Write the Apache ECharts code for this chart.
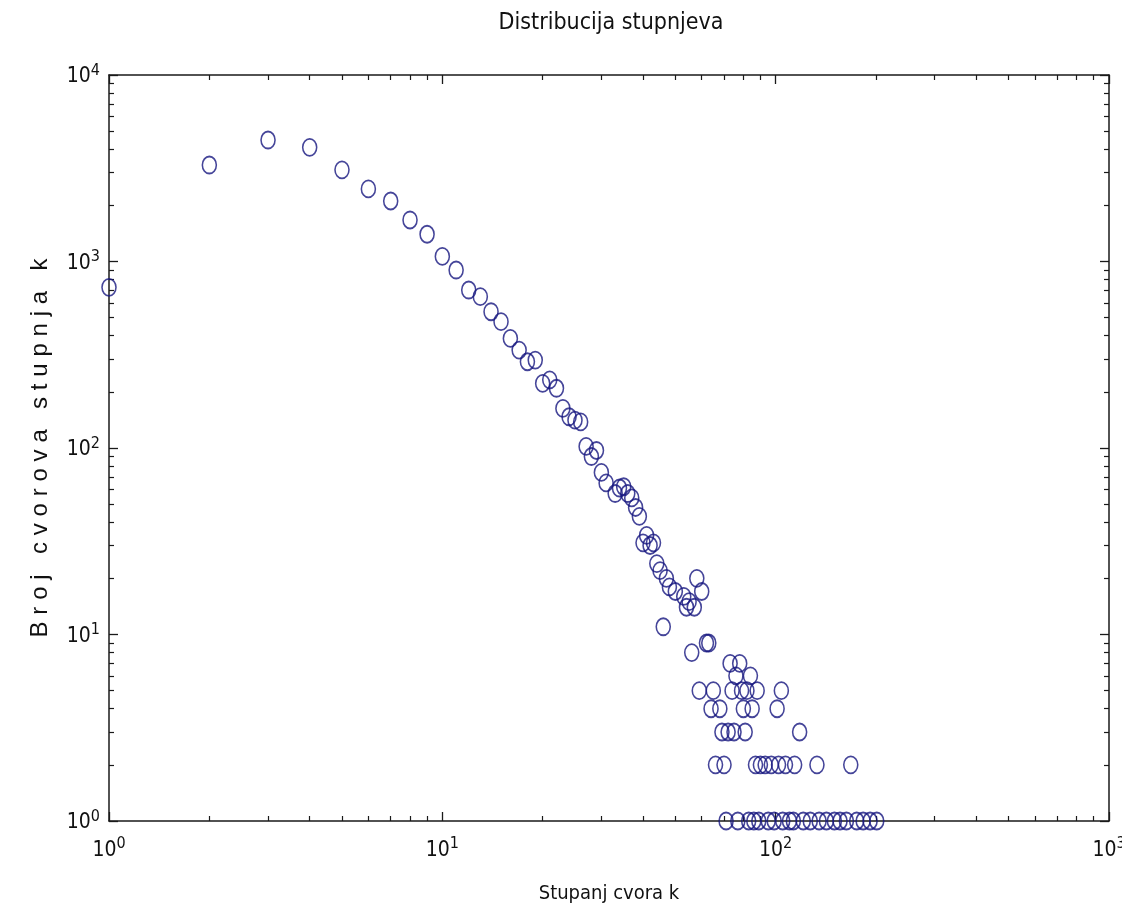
<!DOCTYPE html>
<html>
<head>
<meta charset="utf-8">
<title>Distribucija stupnjeva</title>
<script src="https://cdn.jsdelivr.net/npm/echarts@6/dist/echarts.min.js"></script>
<style>
  html, body { margin: 0; padding: 0; background: #fff; }
  #chart { width: 1122px; height: 916px; }
</style>
</head>
<body>
<div id="chart"></div>
<script>
// stupanj cvora k
const degree = [
  1, 2, 3, 4, 5, 6, 7, 8, 9, 10,
  11, 12, 13, 14, 15, 16, 17, 18, 19, 20,
  21, 22, 23, 24, 25, 26, 27, 28, 29, 30,
  31, 33, 34, 35, 36, 37, 38, 39, 40, 41,
  42, 43, 44, 45, 46, 47, 48, 50, 53, 54,
  55, 56, 57, 58, 59, 60, 62, 63, 64, 65,
  66, 68, 69, 70, 71, 72, 73, 74, 75, 76,
  77, 78, 79, 80, 81, 82, 83, 84, 85, 86,
  87, 88, 89, 90, 93, 95, 97, 99, 101, 102,
  104, 105, 107, 110, 113, 114, 118, 121, 127, 133,
  135, 142, 150, 156, 163, 168, 175, 183, 192, 201
]
// broj cvorova tog stupnja
const count = [
  727, 3290, 4480, 4095, 3100, 2450, 2110, 1670, 1400, 1065,
  900, 703, 648, 538, 476, 387, 335, 290, 296, 222,
  232, 209, 163, 147, 141, 138, 102, 90, 97, 74,
  65, 57, 61, 62, 57, 54, 48, 43, 31, 34,
  30, 31, 24, 22, 11, 20, 18, 17, 16, 14,
  15, 8, 14, 20, 5, 17, 9, 9, 4, 5,
  2, 4, 3, 2, 1, 3, 7, 5, 3, 6,
  1, 7, 5, 4, 3, 5, 1, 6, 4, 1,
  2, 5, 1, 2, 2, 1, 2, 1, 4, 2,
  5, 1, 2, 1, 1, 2, 3, 1, 1, 2,
  1, 1, 1, 1, 1, 2, 1, 1, 1, 1
]

const xMajor = [1, 10, 100, 1000]
const yMajor = [1, 10, 100, 1000, 10000]
const xMinor = [2, 3, 4, 5, 6, 7, 8, 9, 20, 30, 40, 50, 60, 70, 80, 90, 200, 300, 400, 500, 600, 700, 800, 900]
const yMinor = [2, 3, 4, 5, 6, 7, 8, 9, 20, 30, 40, 50, 60, 70, 80, 90, 200, 300, 400, 500, 600, 700, 800, 900,
  2000, 3000, 4000, 5000, 6000, 7000, 8000, 9000]

const titleText = 'Distribucija stupnjeva'
const xName = 'Stupanj cvora k'
const yName = 'Broj cvorova stupnja k'

const narrow = "'Liberation Sans Narrow', 'DejaVu Sans Condensed', 'Liberation Sans', sans-serif"
const lineColor = '#1a1a1a'
const markColor = '#16167f'

// 10 s eksponentom kao u matlabu
const powLabel = v => '{b|10}{e|' + Math.round(Math.log10(v)) + '}'
const powRich = {
  b: { fontFamily: narrow, fontSize: 21, lineHeight: 25, verticalAlign: 'bottom', color: '#111' },
  e: { fontFamily: narrow, fontSize: 16, lineHeight: 16, verticalAlign: 'top', color: '#111' }
}

// razmak medu slovima na osi y
const spaced = s => s.split('').map(c => '{s|' + c + '}').join('')

const myChart = echarts.init(document.getElementById('chart'))

const majorAxis = (pos, min, max, ticks, labels) => ({
  type: 'log', logBase: 10, min: min, max: max, position: pos,
  axisLine: { show: true, lineStyle: { color: lineColor, width: 1.5 } },
  axisTick: { show: true, inside: true, length: 9, customValues: ticks, lineStyle: { color: lineColor, width: 1.3 } },
  axisLabel: labels ? { show: true, customValues: ticks, formatter: powLabel, rich: powRich } : { show: false },
  splitLine: { show: false },
  minorTick: { show: false }
})
const minorAxis = (pos, min, max, ticks) => ({
  type: 'log', logBase: 10, min: min, max: max, position: pos,
  axisLine: { show: false },
  axisTick: { show: true, inside: true, length: 5, customValues: ticks, lineStyle: { color: lineColor, width: 1.2 } },
  axisLabel: { show: false },
  splitLine: { show: false }
})

const bottom = majorAxis('bottom', 1, 1000, xMajor, true)
bottom.axisLabel.margin = 15
bottom.name = xName
bottom.nameLocation = 'middle'
bottom.nameGap = 63
bottom.nameTextStyle = { fontFamily: narrow, fontSize: 20, color: '#111' }

const left = majorAxis('left', 1, 10000, yMajor, true)
left.axisLabel.margin = 9
left.name = spaced(yName)
left.nameLocation = 'middle'
left.nameGap = 57
left.nameTextStyle = {
  rich: { s: { fontFamily: "'Liberation Sans', Arial, sans-serif", fontSize: 24, color: '#111', padding: [0, 3.4, 0, 3.4] } }
}

const option = {
  animation: false,
  backgroundColor: '#fff',
  title: {
    text: titleText,
    left: 606,
    top: 7,
    textAlign: 'center',
    textStyle: { fontFamily: narrow, fontSize: 23, fontWeight: 'normal', color: '#111' }
  },
  grid: { left: 109, right: 13, top: 75, bottom: 95, containLabel: false, outerBoundsMode: 'none' },
  xAxis: [
    bottom,
    minorAxis('bottom', 1, 1000, xMinor),
    majorAxis('top', 1, 1000, xMajor, false),
    minorAxis('top', 1, 1000, xMinor)
  ],
  yAxis: [
    left,
    minorAxis('left', 1, 10000, yMinor),
    majorAxis('right', 1, 10000, yMajor, false),
    minorAxis('right', 1, 10000, yMinor)
  ],
  series: [
    {
      type: 'scatter',
      xAxisIndex: 0,
      yAxisIndex: 0,
      data: degree.map((k, i) => [k, count[i]]),
      symbol: 'circle',
      symbolSize: [14, 17],
      clip: false,
      silent: true,
      itemStyle: { color: 'rgba(0,0,0,0)', borderColor: markColor, borderWidth: 1.7 }
    }
  ]
}
option && myChart.setOption(option)
</script>
</body>
</html>
